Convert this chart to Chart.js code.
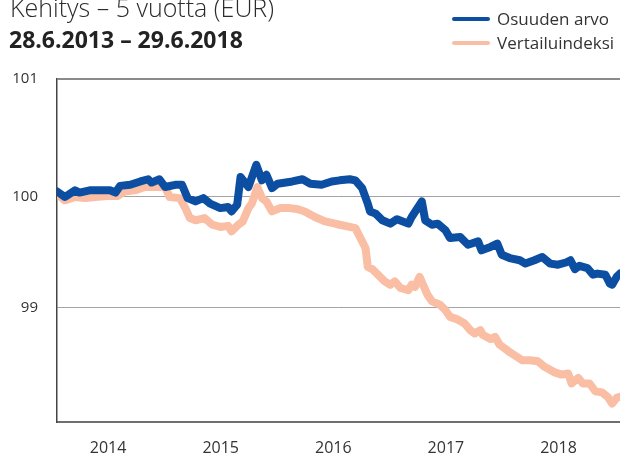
<!DOCTYPE html>
<html>
<head>
<meta charset="utf-8">
<script src="https://cdn.jsdelivr.net/npm/chart.js@4.4.1/dist/chart.umd.min.js"></script>
<style>
    html, body { margin: 0; padding: 0; background: #fff; }
    #wrap { position: relative; width: 620px; height: 457px; overflow: hidden; }
    #chart { position: absolute; left: 0; top: 0; }
    .txt { position: absolute; white-space: nowrap; font-family: "Open Sans", sans-serif; color: #2b2b2b; line-height: 1; }
    #title1 { left: 10px; top: -5px; font-size: 25px; font-weight: 300; }
    #title2 { left: 9px; top: 28px; font-size: 23px; font-weight: 700; color: #222; }
    .leg { left: 452px; font-size: 17px; color: #333; }
    .leg i { display: inline-block; width: 38px; height: 4px; border-radius: 2px; vertical-align: middle; margin-right: 7px; position: relative; top: -1px; }
</style>
</head>
<body>
<div id="wrap">
    <canvas id="chart" width="620" height="457"></canvas>
    <div class="txt" id="title1">Kehitys – 5 vuotta (EUR)</div>
    <div class="txt" id="title2">28.6.2013 – 29.6.2018</div>
    <div class="txt leg" id="leg1" style="top:10px"><i style="background:#0c4ea1"></i>Osuuden arvo</div>
    <div class="txt leg" id="leg2" style="top:34px"><i style="background:#f9bea4"></i>Vertailuindeksi</div>
</div>
<script>
// aika vuosina (desimaali), 28.6.2013 - 29.6.2018
const fundDates = [2013.49, 2013.56, 2013.65, 2013.69, 2013.78, 2013.87, 2013.96, 2014.01, 2014.05, 2014.14,
    2014.23, 2014.30, 2014.33, 2014.40, 2014.45, 2014.54, 2014.60, 2014.65, 2014.72, 2014.79,
    2014.85, 2014.94, 2015.01, 2015.04, 2015.09, 2015.12, 2015.19, 2015.26, 2015.31, 2015.35,
    2015.40, 2015.45, 2015.58, 2015.67, 2015.74, 2015.84, 2015.93, 2016.00, 2016.09, 2016.14,
    2016.20, 2016.25, 2016.27, 2016.32, 2016.38, 2016.45, 2016.51, 2016.61, 2016.64, 2016.73,
    2016.76, 2016.82, 2016.87, 2016.94, 2016.98, 2017.07, 2017.14, 2017.23, 2017.26, 2017.34,
    2017.40, 2017.44, 2017.51, 2017.60, 2017.65, 2017.73, 2017.80, 2017.87, 2017.94, 2018.01,
    2018.05, 2018.09, 2018.13, 2018.20, 2018.25, 2018.29, 2018.36, 2018.40, 2018.42, 2018.46, 2018.49];
const fundValues = [100.05, 100.00, 100.06, 100.04, 100.06, 100.06, 100.06, 100.04, 100.10, 100.11,
    100.14, 100.16, 100.13, 100.16, 100.09, 100.11, 100.11, 99.99, 99.96, 99.99,
    99.94, 99.90, 99.91, 99.87, 99.93, 100.18, 100.09, 100.29, 100.15, 100.20,
    100.08, 100.12, 100.14, 100.16, 100.12, 100.11, 100.14, 100.15, 100.16, 100.15,
    100.08, 99.94, 99.87, 99.85, 99.79, 99.76, 99.80, 99.76, 99.82, 99.96,
    99.79, 99.75, 99.76, 99.70, 99.63, 99.64, 99.57, 99.60, 99.52, 99.55,
    99.58, 99.48, 99.45, 99.43, 99.40, 99.43, 99.46, 99.40, 99.39, 99.41,
    99.43, 99.35, 99.38, 99.36, 99.30, 99.31, 99.30, 99.22, 99.21, 99.28, 99.31];

const indexDates = [2013.49, 2013.56, 2013.65, 2013.74, 2013.83, 2013.96, 2014.03, 2014.09, 2014.18, 2014.27,
    2014.36, 2014.45, 2014.49, 2014.58, 2014.63, 2014.67, 2014.72, 2014.80, 2014.87, 2014.94,
    2015.01, 2015.04, 2015.10, 2015.14, 2015.19, 2015.22, 2015.27, 2015.31, 2015.35, 2015.40,
    2015.47, 2015.56, 2015.63, 2015.69, 2015.78, 2015.87, 2015.96, 2016.00, 2016.09, 2016.14,
    2016.18, 2016.23, 2016.25, 2016.29, 2016.34, 2016.40, 2016.45, 2016.49, 2016.54, 2016.61,
    2016.64, 2016.67, 2016.71, 2016.74, 2016.78, 2016.82, 2016.89, 2016.94, 2016.98, 2017.04,
    2017.11, 2017.16, 2017.20, 2017.25, 2017.27, 2017.34, 2017.38, 2017.42, 2017.50, 2017.56,
    2017.62, 2017.69, 2017.76, 2017.82, 2017.91, 2017.97, 2018.03, 2018.06, 2018.12, 2018.16,
    2018.22, 2018.27, 2018.33, 2018.38, 2018.42, 2018.46, 2018.49];
const indexValues = [100.03, 99.97, 100.00, 99.99, 100.00, 100.01, 100.01, 100.05, 100.06, 100.09,
    100.09, 100.09, 100.00, 99.99, 99.90, 99.81, 99.79, 99.81, 99.75, 99.73,
    99.74, 99.69, 99.75, 99.78, 99.90, 99.94, 100.09, 99.99, 99.96, 99.87,
    99.90, 99.90, 99.89, 99.87, 99.82, 99.78, 99.76, 99.75, 99.73, 99.72,
    99.64, 99.54, 99.37, 99.35, 99.30, 99.24, 99.21, 99.24, 99.18, 99.16,
    99.21, 99.19, 99.28, 99.21, 99.12, 99.06, 99.03, 98.98, 98.92, 98.90,
    98.86, 98.80, 98.77, 98.80, 98.76, 98.72, 98.74, 98.67, 98.61, 98.57,
    98.53, 98.53, 98.52, 98.47, 98.42, 98.40, 98.41, 98.32, 98.37, 98.32,
    98.32, 98.25, 98.24, 98.20, 98.14, 98.19, 98.20];

const yearTicks = [2014, 2015, 2016, 2017, 2018];
const valueTicks = [99, 100, 101];

const xMin = 2013.49, xMax = 2018.49;
const yMin = 97.973, yMax = 101.063;

function toPoints(xs, ys) {
    return xs.map((x, i) => ({ x: x, y: ys[i] }));
}

new Chart(document.getElementById('chart'), {
    type: 'line',
    data: {
        datasets: [
            {
                label: 'Osuuden arvo',
                data: toPoints(fundDates, fundValues),
                borderColor: '#0c4ea1',
                borderWidth: 8,
                pointRadius: 0,
                borderJoinStyle: 'round',
                borderCapStyle: 'round',
                tension: 0,
                clip: 0
            },
            {
                label: 'Vertailuindeksi',
                data: toPoints(indexDates, indexValues),
                borderColor: '#f9bea4',
                borderWidth: 8,
                pointRadius: 0,
                borderJoinStyle: 'round',
                borderCapStyle: 'round',
                tension: 0,
                clip: 0
            }
        ]
    },
    options: {
        responsive: false,
        animation: false,
        layout: { padding: { top: 79, right: 0, left: 0, bottom: 0 } },
        plugins: { legend: { display: false }, tooltip: { enabled: false } },
        scales: {
            x: {
                type: 'linear',
                min: xMin,
                max: xMax,
                afterBuildTicks: axis => {
                    // vuosiluvut hieman vasemmalle kuten alkuperäisessä
                    axis.ticks = yearTicks.map(y => ({ value: y - 0.056 }));
                },
                afterFit: axis => { axis.height = 35; },
                grid: { display: false, drawTicks: false },
                border: { display: true, color: '#6f6f6f', width: 2 },
                ticks: {
                    padding: 17,
                    color: '#333',
                    font: { family: 'Open Sans', size: 16 },
                    maxRotation: 0,
                    callback: v => String(Math.round(v))
                }
            },
            y: {
                min: yMin,
                max: yMax,
                afterBuildTicks: axis => {
                    axis.ticks = valueTicks.map(v => ({ value: v === 101 ? yMax : v }));
                },
                afterFit: axis => { axis.width = 57; },
                grid: {
                    drawTicks: false,
                    color: ctx => (ctx.tick && ctx.tick.value === yMax) ? '#8a8a8a' : '#a3a3a3',
                    lineWidth: ctx => (ctx.tick && ctx.tick.value === yMax) ? 2 : 1
                },
                border: { display: true, color: '#444', width: 1.5 },
                ticks: {
                    padding: 19,
                    color: '#333',
                    font: { family: 'Open Sans', size: 15 },
                    callback: v => String(Math.round(v))
                }
            }
        }
    }
});
</script>
</body>
</html>
